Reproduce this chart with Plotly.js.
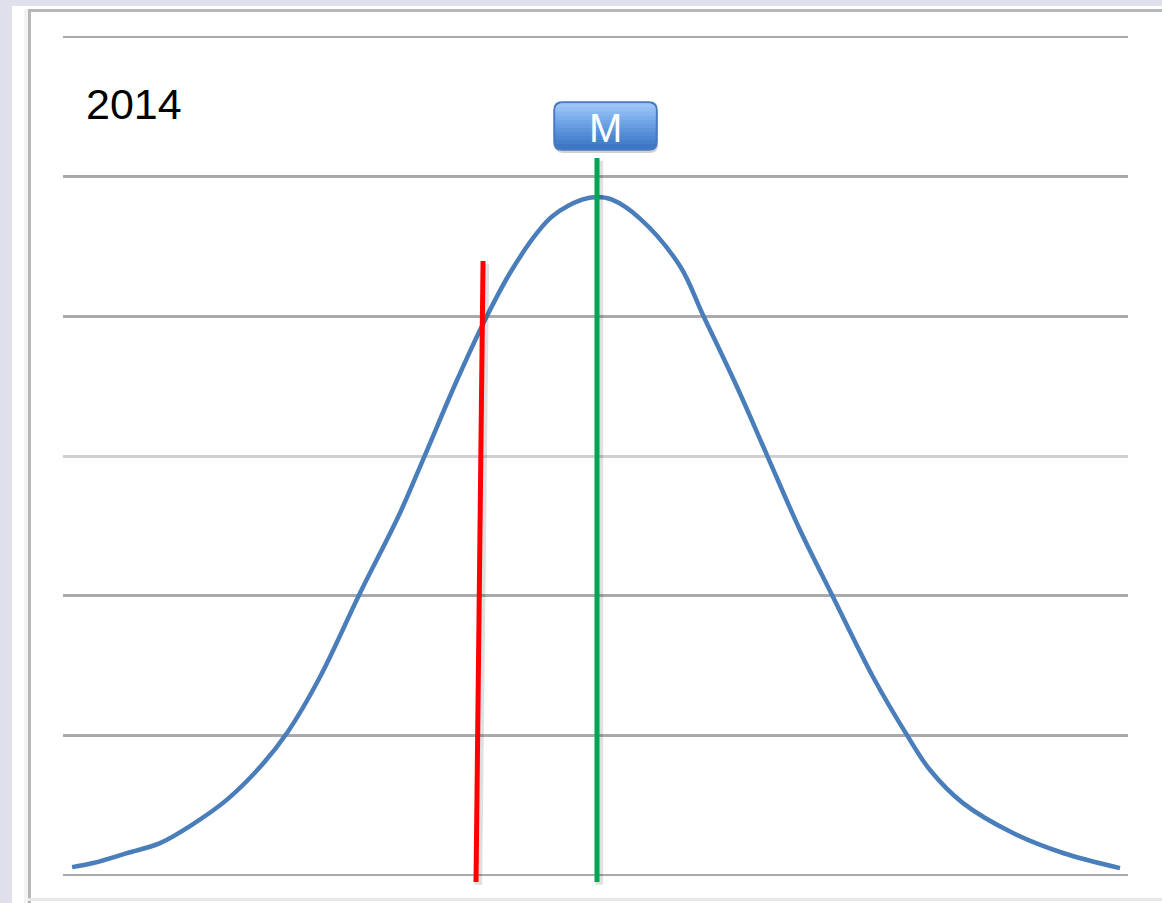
<!DOCTYPE html>
<html>
<head>
<meta charset="utf-8">
<script src="https://cdn.plot.ly/plotly-3.0.1.min.js"></script>
<style>
  html, body { margin: 0; padding: 0; background: #ffffff; }
  #chart { width: 1162px; height: 903px; }
</style>
</head>
<body>
<div id="chart"></div>
<script>
// ---- data ----
const curveX = [0.85, 2.82, 6.01, 9.11, 12.21, 15.40, 18.50, 21.03, 24.13, 27.89, 31.64, 33.99, 37.00,
                39.62, 41.97, 44.51, 46.01, 48.73, 50.14, 51.55, 54.18, 57.93, 60.09, 63.29, 66.10, 69.20,
                72.21, 76.06, 79.25, 81.41, 84.51, 89.20, 93.90, 99.25];
const curveY = [0.057, 0.086, 0.157, 0.229, 0.365, 0.540, 0.773, 1.017, 1.418, 2.019, 2.592, 3.007, 3.544,
                3.974, 4.310, 4.597, 4.720, 4.835, 4.854, 4.835, 4.700, 4.360, 4.010, 3.494, 3.007, 2.470,
                2.005, 1.418, 1.002, 0.752, 0.515, 0.301, 0.158, 0.050];
const cutX = [39.44, 38.78];      // red line (top, bottom)
const cutY = [4.396, -0.05];
const meanX = [50.14, 50.14];     // green line "M"
const meanY = [5.134, -0.05];
const gridDark = [0, 1, 2, 4, 5, 6];
const gridLight = [3];
const yearLabel = "2014";
const meanLabel = "M";

// ---- plot geometry helpers (pixel -> paper) ----
const W = 1162, H = 903, L = 63, R = 34, T = 23, B = 0;
const pw = W - L - R, ph = H - T - B;
const px = v => (v - L) / pw;
const py = v => (H - B - v) / ph;

const shapes = [];
const rect = (x0, y0, x1, y1, color) => shapes.push({
  type: 'rect', xref: 'paper', yref: 'paper', layer: 'below',
  x0: px(x0), x1: px(x1), y0: py(y1), y1: py(y0),
  line: { width: 0 }, fillcolor: color
});
rect(0, 0, 12, 903, '#e0e0ec');
rect(0, 0, 1162, 6, '#e0e0ec');
rect(24, 9, 28, 903, '#f3f3f3');
rect(28, 9, 31, 903, '#b7b7b7');
rect(28, 9, 1162, 12, '#b7b7b7');
rect(28, 898, 1162, 901, '#e8e8e8');

// "M" label box (rounded, vertical gradient)
const bx0 = 554, bx1 = 657, by0 = 102, by1 = 150, r = 8;
const X = v => px(v), Y = v => py(v);
function roundRectPath(x0, y0, x1, y1, rr, roundBottom) {
  let p = `M ${X(x0 + rr)} ${Y(y0)} L ${X(x1 - rr)} ${Y(y0)} Q ${X(x1)} ${Y(y0)} ${X(x1)} ${Y(y0 + rr)}`;
  if (roundBottom) {
    p += ` L ${X(x1)} ${Y(y1 - rr)} Q ${X(x1)} ${Y(y1)} ${X(x1 - rr)} ${Y(y1)} L ${X(x0 + rr)} ${Y(y1)} Q ${X(x0)} ${Y(y1)} ${X(x0)} ${Y(y1 - rr)}`;
  } else {
    p += ` L ${X(x1)} ${Y(y1)} L ${X(x0)} ${Y(y1)}`;
  }
  p += ` L ${X(x0)} ${Y(y0 + rr)} Q ${X(x0)} ${Y(y0)} ${X(x0 + rr)} ${Y(y0)} Z`;
  return p;
}
shapes.push({ type: 'path', xref: 'paper', yref: 'paper', path: roundRectPath(bx0 + 1, by0 + 3, bx1 + 1, by1 + 3, r, true),
  fillcolor: 'rgba(0,0,0,0.18)', line: { width: 0 } });
shapes.push({ type: 'path', xref: 'paper', yref: 'paper', path: roundRectPath(bx0, by0, bx1, by1, r, true),
  fillcolor: '#3f77c4', line: { width: 0 } });
const bands = ['#4680cb', '#4d87d1', '#558ed6', '#5e96dc', '#679ee1', '#71a6e6', '#7baeeb', '#86b6ef', '#92bef3', '#9cc5f5'];
const innerTop = by0 + 1.5, innerBot = by1 - 2;
bands.forEach((c, i) => {
  const bottom = innerBot - (innerBot - innerTop) * (i + 1) / (bands.length + 1);
  shapes.push({ type: 'path', xref: 'paper', yref: 'paper',
    path: roundRectPath(bx0 + 1.5, innerTop, bx1 - 1.5, bottom, r - 1.5, false),
    fillcolor: c, line: { width: 0 } });
});
shapes.push({ type: 'path', xref: 'paper', yref: 'paper', path: roundRectPath(bx0, by0, bx1, by1, r, true),
  fillcolor: 'rgba(0,0,0,0)', line: { color: '#4a7cc0', width: 1.5 } });

const shadowOf = (xs, ys) => ({
  x: xs.map(v => v + 0.2), y: ys.map(v => v - 0.02), mode: 'lines', hoverinfo: 'skip', showlegend: false,
  line: { color: 'rgba(0,0,0,0.12)', width: 8 }
});

const traces = [
  { x: curveX, y: curveY, mode: 'lines', showlegend: false, hoverinfo: 'skip',
    line: { color: '#4a7ebb', width: 4.5, shape: 'spline', smoothing: 1.0 } },
  shadowOf(cutX, cutY),
  { x: cutX, y: cutY, mode: 'lines', showlegend: false, hoverinfo: 'skip', line: { color: '#ff0000', width: 5 } },
  shadowOf(meanX, meanY),
  { x: meanX, y: meanY, mode: 'lines', showlegend: false, hoverinfo: 'skip', line: { color: '#00a651', width: 5 } }
];

const yRange = [-0.2, 6.1];
const layout = {
  width: W, height: H,
  margin: { l: L, r: R, t: T, b: B, pad: 0 },
  paper_bgcolor: '#ffffff', plot_bgcolor: 'rgba(0,0,0,0)',
  showlegend: false,
  xaxis: { range: [0, 100], visible: false, fixedrange: true },
  yaxis: { range: yRange, tickmode: 'array', tickvals: gridDark, showgrid: true, gridcolor: '#aaaaaa', gridwidth: 2.5,
           zeroline: false, showticklabels: false, ticks: '', showline: false, fixedrange: true },
  yaxis2: { range: yRange, overlaying: 'y', tickmode: 'array', tickvals: gridLight, showgrid: true, gridcolor: '#d0d0d0', gridwidth: 3,
           zeroline: false, showticklabels: false, ticks: '', showline: false, fixedrange: true },
  shapes: shapes,
  annotations: [
    { text: yearLabel, xref: 'paper', yref: 'paper', x: px(84), y: py(104), xanchor: 'left', yanchor: 'middle',
      showarrow: false, font: { family: 'Liberation Sans, Arial, sans-serif', size: 43, color: '#000000' } },
    { text: meanLabel, xref: 'paper', yref: 'paper', x: px(605), y: py(128), xanchor: 'center', yanchor: 'middle',
      showarrow: false, font: { family: 'Liberation Sans, Arial, sans-serif', size: 40, color: '#ffffff' } }
  ]
};
// invisible helper trace so yaxis2 is drawn
traces.push({ x: [0], y: [0], yaxis: 'y2', mode: 'markers', marker: { opacity: 0 }, hoverinfo: 'skip', showlegend: false });

Plotly.newPlot('chart', traces, layout, { staticPlot: true, displayModeBar: false });
</script>
</body>
</html>
